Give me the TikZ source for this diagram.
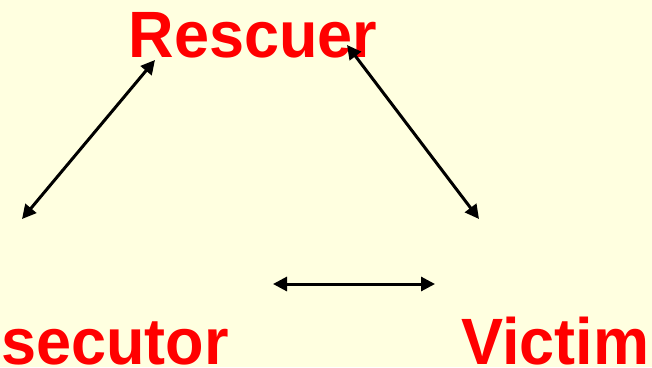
\documentclass[tikz,border=0pt]{standalone}
\usepackage{fontspec}
\setmainfont{Liberation Sans}
\usetikzlibrary{arrows.meta}
\definecolor{bgyellow}{RGB}{255,255,224}
\definecolor{rolered}{RGB}{255,0,0}
\newcommand{\roletext}[1]{\scalebox{1}[1.04]{#1}}
\tikzset{
  role/.style={text=rolered, font=\fontsize{63}{63}\selectfont\bfseries, inner sep=0pt},
  link/.style={line width=3pt, {Triangle[length=14pt,width=14pt]}-{Triangle[length=14pt,width=14pt]}}
}
\begin{document}
\begin{tikzpicture}[x=1pt,y=-1pt]
\useasboundingbox (0,0) rectangle (652,367);
\fill[bgyellow] (0,0) rectangle (652,367);
\node[role, anchor=base west] (rescuer) at (128.5,57) {\roletext{Rescuer}};
\node[role, anchor=base west] (persecutor) at (1,364) {\roletext{secutor}};
\node[role, anchor=base west] (victim) at (461,364) {\roletext{Victim}};
\coordinate (a1) at (22,219);
\coordinate (a2) at (155,60);
\coordinate (b1) at (347,45);
\coordinate (b2) at (479,219);
\coordinate (c1) at (273,284);
\coordinate (c2) at (435,284);
\draw[link] (a1) -- (a2);
\draw[link] (b1) -- (b2);
\draw[link] (c1) -- (c2);
\end{tikzpicture}
\end{document}
